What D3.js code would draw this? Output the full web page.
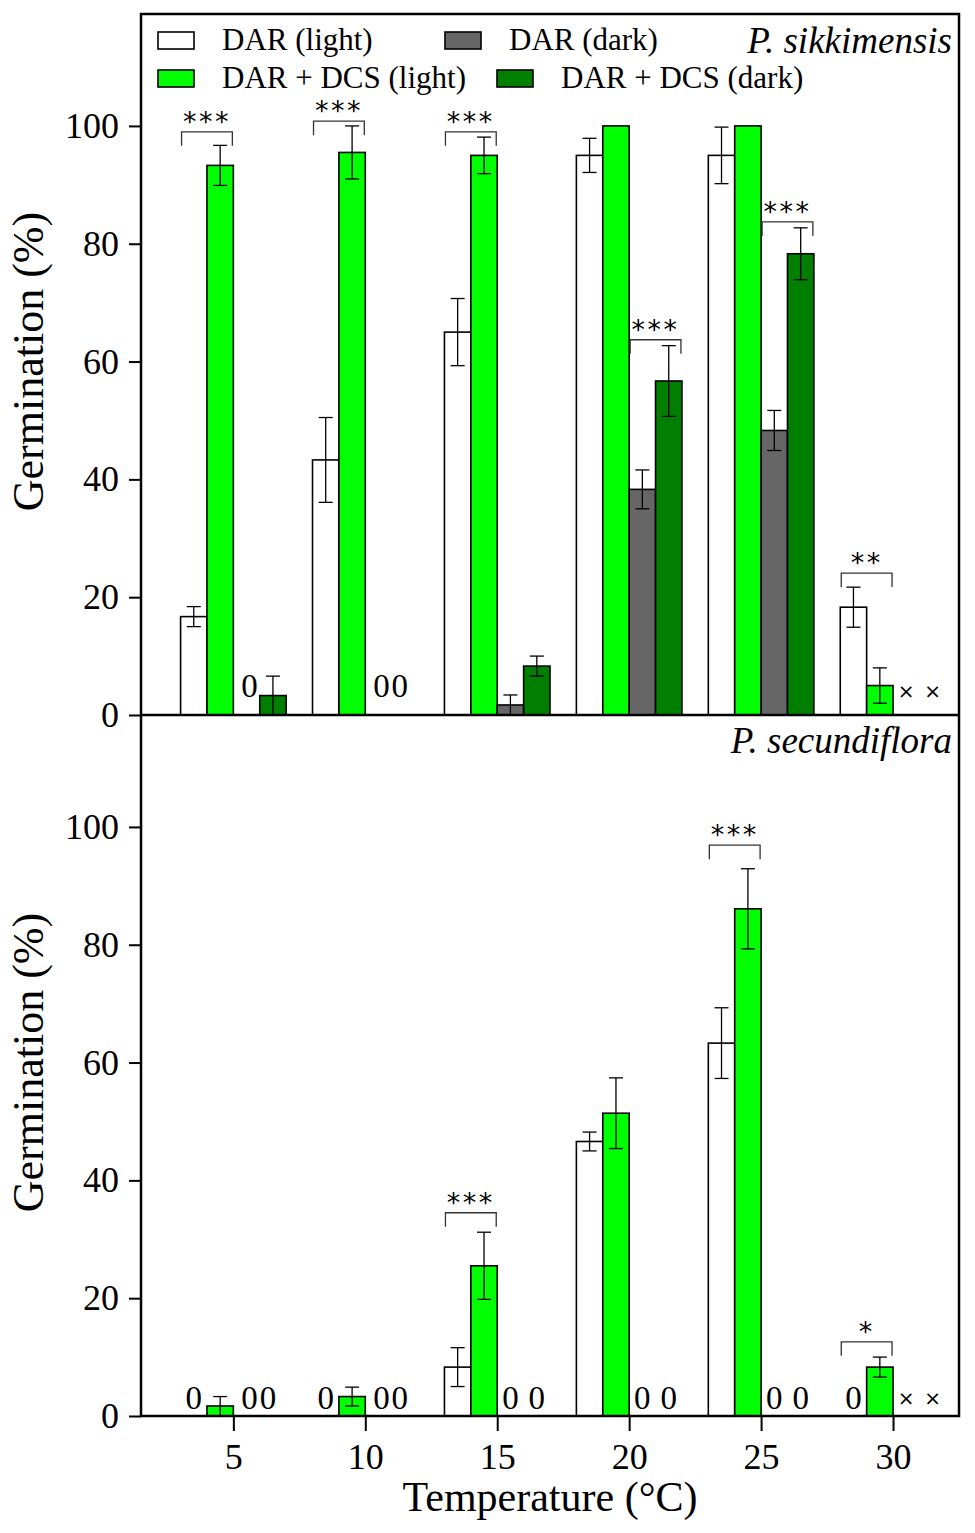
<!DOCTYPE html>
<html>
<head>
<meta charset="utf-8">
<script src="https://cdn.jsdelivr.net/npm/d3@7"></script>
<style>
  body { margin: 0; background: #fff; }
  svg { font-family: "Liberation Serif", "Times New Roman", serif; }
</style>
</head>
<body>
<svg id="chart" width="975" height="1533"></svg>
<script>
// temperatures on the x axis
const temps = [5, 10, 15, 20, 25, 30]
const seriesNames = ["DAR (light)", "DAR + DCS (light)", "DAR (dark)", "DAR + DCS (dark)"]
const seriesColors = ["#ffffff", "#00ff00", "#666666", "#007f00"]
const seriesOffset = [-2, -1, 0, 1] // bar slot, in degrees, relative to the tick

// P. sikkimensis (null = not tested, drawn as x)
const sikDarLight = [16.7, 43.3, 65.0, 95.0, 95.0, 18.3]
const sikDarLightErr = [1.7, 7.2, 5.7, 2.9, 4.8, 3.4]
const sikDcsLight = [93.3, 95.5, 95.0, 100, 100, 5.0]
const sikDcsLightErr = [3.4, 4.5, 3.1, 0, 0, 3.0]
const sikDarDark = [0, 0, 1.7, 38.3, 48.3, null]
const sikDarDarkErr = [0, 0, 1.7, 3.3, 3.4, null]
const sikDcsDark = [3.3, 0, 8.3, 56.7, 78.3, null]
const sikDcsDarkErr = [3.3, 0, 1.7, 6.0, 4.4, null]

// P. secundiflora
const secDarLight = [0, 0, 8.3, 46.6, 63.3, 0]
const secDarLightErr = [0, 0, 3.3, 1.6, 6.0, 0]
const secDcsLight = [1.7, 3.3, 25.5, 51.4, 86.1, 8.3]
const secDcsLightErr = [1.6, 1.6, 5.7, 6.0, 6.8, 1.7]
const secDarDark = [0, 0, 0, 0, 0, null]
const secDarDarkErr = [0, 0, 0, 0, 0, null]
const secDcsDark = [0, 0, 0, 0, 0, null]
const secDcsDarkErr = [0, 0, 0, 0, 0, null]

// significance brackets
const sikSigTemps = [5, 10, 15, 20, 25, 30]
const sikSigPair = ["light", "light", "light", "dark", "dark", "light"]
const sikSigLevel = [99.0, 100.8, 99.0, 63.7, 83.7, 24.1]
const sikSigLabel = ["***", "***", "***", "***", "***", "**"]

const secSigTemps = [15, 25, 30]
const secSigPair = ["light", "light", "light"]
const secSigLevel = [34.5, 96.9, 12.6]
const secSigLabel = ["***", "***", "*"]

const yTicks = [0, 20, 40, 60, 80, 100]

const margin = {left: 141, right: 16, top: 14}
const panelHeight = 701
const width = 975 - margin.left - margin.right

const svg = d3.select('#chart')

const x = d3.scaleLinear()
  .domain([1.5, 32.5])
  .range([0, width])

const barW = x(1) - x(0)

function buildRows(values, errs) {
  return temps.map((t, i) => ({t: t, v: values[i], e: errs[i]}))
}

function drawPanel(g, panel) {
  const y = d3.scaleLinear()
    .domain([0, 119])
    .range([panelHeight, 0])

  // y axis
  g.append('g')
    .attr('class', 'y-axis')
    .call(d3.axisLeft(y).tickValues(yTicks).tickSize(12).tickPadding(10).tickFormat(d3.format('d')))
    .call(a => a.select('.domain').remove())
    .call(a => a.selectAll('line').attr('stroke-width', 2))
    .call(a => a.selectAll('text').attr('font-size', 36).attr('font-family', '"Liberation Serif", serif').attr('fill', '#000'))

  panel.series.forEach((s, k) => {
    const rows = buildRows(s.values, s.errs)
    const present = rows.filter(d => d.v !== null && d.v > 0)

    g.selectAll(null)
      .data(present)
      .enter().append('rect')
      .attr('x', d => x(d.t + seriesOffset[k]))
      .attr('width', barW)
      .attr('y', d => y(d.v))
      .attr('height', d => y(0) - y(d.v))
      .attr('fill', seriesColors[k])
      .attr('stroke', '#000')
      .attr('stroke-width', 1.6)

    // error bars
    const withErr = present.filter(d => d.e > 0)
    const cx = d => x(d.t + seriesOffset[k] + 0.5)
    const eg = g.append('g').attr('stroke', '#000').attr('stroke-width', 1.3)
    eg.selectAll(null).data(withErr).enter().append('line')
      .attr('x1', cx).attr('x2', cx)
      .attr('y1', d => y(d.v + d.e)).attr('y2', d => y(Math.max(0, d.v - d.e)))
    eg.selectAll(null).data(withErr).enter().append('line')
      .attr('x1', d => cx(d) - 7).attr('x2', d => cx(d) + 7)
      .attr('y1', d => y(d.v + d.e)).attr('y2', d => y(d.v + d.e))
    eg.selectAll(null).data(withErr.filter(d => d.v - d.e > 0.3)).enter().append('line')
      .attr('x1', d => cx(d) - 7).attr('x2', d => cx(d) + 7)
      .attr('y1', d => y(d.v - d.e)).attr('y2', d => y(d.v - d.e))

    // zero labels (the pair at the cooler temperatures sits a little tighter)
    g.selectAll(null)
      .data(rows.filter(d => d.v === 0))
      .enter().append('text')
      .attr('x', d => cx(d) + (d.t <= 10 ? (k === 2 ? 3 : k === 3 ? -5 : 0) : 0))
      .attr('y', y(0) - panel.zeroLift)
      .attr('text-anchor', 'middle')
      .attr('font-size', 33)
      .text('0')

    // not tested
    g.selectAll(null)
      .data(rows.filter(d => d.v === null))
      .enter().append('text')
      .attr('x', cx)
      .attr('y', y(0) - panel.crossLift)
      .attr('text-anchor', 'middle')
      .attr('font-family', '"DejaVu Sans", sans-serif')
      .attr('font-size', 20)
      .text('×')
  })

  // significance brackets
  const sig = panel.sigTemps.map((t, i) => ({t: t, pair: panel.sigPair[i], lev: panel.sigLevel[i], label: panel.sigLabel[i]}))
  const sg = g.append('g')
  sig.forEach(d => {
    const x0 = x(d.t + (d.pair === 'light' ? -2 : 0)) + 1
    const x1 = x(d.t + (d.pair === 'light' ? 0 : 2)) - 1
    const yy = y(d.lev)
    sg.append('path')
      .attr('d', `M${x0},${yy + 14}V${yy}H${x1}V${yy + 14}`)
      .attr('fill', 'none')
      .attr('stroke', '#333')
      .attr('stroke-width', 1.3)
    sg.append('text')
      .attr('x', (x0 + x1) / 2)
      .attr('y', yy - 1)
      .attr('text-anchor', 'middle')
      .attr('font-family', '"DejaVu Sans", sans-serif')
      .attr('font-size', 27)
      .attr('letter-spacing', 2.5)
      .text(d.label)
  })

  // species name
  g.append('text')
    .attr('x', width - 7)
    .attr('y', panel.nameY)
    .attr('text-anchor', 'end')
    .attr('font-size', 37)
    .attr('font-style', 'italic')
    .text(panel.name)

  // y label
  g.append('text')
    .attr('transform', `translate(${-98},${y(60)}) rotate(-90)`)
    .attr('text-anchor', 'middle')
    .attr('font-size', 44)
    .text('Germination (%)')
}

const panels = [
  {
    name: 'P. sikkimensis', nameY: 39, zeroLift: 18, crossLift: 17,
    series: [
      {values: sikDarLight, errs: sikDarLightErr},
      {values: sikDcsLight, errs: sikDcsLightErr},
      {values: sikDarDark, errs: sikDarDarkErr},
      {values: sikDcsDark, errs: sikDcsDarkErr}
    ],
    sigTemps: sikSigTemps, sigPair: sikSigPair, sigLevel: sikSigLevel, sigLabel: sikSigLabel
  },
  {
    name: 'P. secundiflora', nameY: 38, zeroLift: 7, crossLift: 11,
    series: [
      {values: secDarLight, errs: secDarLightErr},
      {values: secDcsLight, errs: secDcsLightErr},
      {values: secDarDark, errs: secDarDarkErr},
      {values: secDcsDark, errs: secDcsDarkErr}
    ],
    sigTemps: secSigTemps, sigPair: secSigPair, sigLevel: secSigLevel, sigLabel: secSigLabel
  }
]

panels.forEach((p, i) => {
  const g = svg.append('g')
    .attr('transform', `translate(${margin.left},${margin.top + i * panelHeight})`)
  drawPanel(g, p)
})

// x axis at the bottom
const xg = svg.append('g')
  .attr('transform', `translate(${margin.left},${margin.top + 2 * panelHeight})`)
  .call(d3.axisBottom(x).tickValues(temps).tickSize(15).tickPadding(12))
  .call(a => a.select('.domain').remove())
  .call(a => a.selectAll('line').attr('stroke-width', 2))
  .call(a => a.selectAll('text').attr('font-size', 36).attr('font-family', '"Liberation Serif", serif').attr('fill', '#000'))

svg.append('text')
  .attr('x', margin.left + x(17))
  .attr('y', 1511)
  .attr('text-anchor', 'middle')
  .attr('font-size', 42)
  .text('Temperature (°C)')

// frame and panel divider
svg.append('rect')
  .attr('x', margin.left)
  .attr('y', margin.top)
  .attr('width', width)
  .attr('height', 2 * panelHeight)
  .attr('fill', 'none')
  .attr('stroke', '#000')
  .attr('stroke-width', 2.5)
svg.append('line')
  .attr('x1', margin.left).attr('x2', margin.left + width)
  .attr('y1', margin.top + panelHeight).attr('y2', margin.top + panelHeight)
  .attr('stroke', '#000')
  .attr('stroke-width', 2.5)

// legend
const legendX = [158, 445, 158, 497]
const legendY = [40, 40, 78, 78]
const legendOrder = [0, 2, 1, 3]
const lg = svg.append('g')
legendOrder.forEach((k, j) => {
  lg.append('rect')
    .attr('x', legendX[j])
    .attr('y', legendY[j] - 8)
    .attr('width', 36)
    .attr('height', 17)
    .attr('fill', seriesColors[k])
    .attr('stroke', '#000')
    .attr('stroke-width', 1.6)
  lg.append('text')
    .attr('x', legendX[j] + 64)
    .attr('y', legendY[j] + 10)
    .attr('font-size', 31)
    .text(seriesNames[k])
})
</script>
</body>
</html>
